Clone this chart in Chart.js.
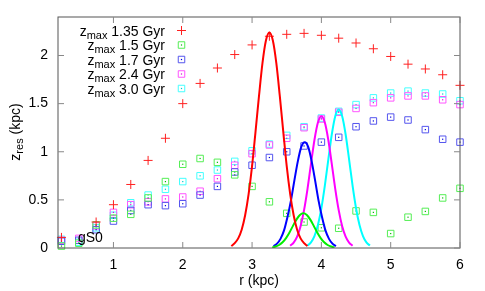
<!DOCTYPE html>
<html><head><meta charset="utf-8">
<script src="https://cdn.jsdelivr.net/npm/chart.js@4.4.1/dist/chart.umd.min.js"></script>
<style>html,body{margin:0;padding:0;background:#fff;}canvas{display:block;}</style>
</head><body>
<canvas id="c" width="485" height="291"></canvas>
<script>
// ---- data ----
const radii = [0.25,0.5,0.75,1.0,1.25,1.5,1.75,2.0,2.25,2.5,2.75,3.0,3.25,3.5,3.75,4.0,4.25,4.5,4.75,5.0,5.25,5.5,5.75,6.0];
const z135 = [0.11,null,0.27,0.45,0.66,0.91,1.14,1.50,1.71,1.87,2.01,2.11,2.20,2.22,2.23,2.21,2.18,2.13,2.07,1.99,1.91,1.86,1.80,1.69];
const z15  = [0.02,0.05,0.24,0.31,0.35,0.52,0.69,0.87,0.93,0.89,0.76,0.64,0.48,0.36,0.27,0.21,0.205,0.385,0.37,0.15,0.32,0.38,0.52,0.62];
const z17  = [0.07,0.08,0.19,0.28,0.39,0.45,0.44,0.46,0.55,0.64,0.79,0.86,0.94,1.00,1.06,1.10,1.15,1.26,1.32,1.36,1.33,1.23,1.13,1.10];
const z24  = [0.08,0.10,0.23,0.37,0.45,0.48,0.51,0.53,0.59,0.72,0.86,0.98,1.07,1.14,1.25,1.34,1.41,1.45,1.51,1.56,1.58,1.58,1.54,1.49];
const z30  = [0.09,0.06,0.21,0.34,0.47,0.55,0.61,0.69,0.75,0.81,0.90,1.01,1.08,1.17,1.26,1.35,1.42,1.49,1.56,1.61,1.63,1.61,1.60,1.53];

const redCurveR = [2.70,2.75,2.80,2.85,2.90,2.95,3.00,3.05,3.10,3.15,3.20,3.25,3.30,3.35,3.40,3.45,3.50,3.55,3.60,3.65,3.70,3.75,3.80];
const redCurveZ = [0.02,0.05,0.10,0.19,0.34,0.56,0.85,1.21,1.58,1.92,2.155,2.24,2.155,1.92,1.58,1.21,0.85,0.56,0.34,0.19,0.10,0.05,0.02];
const greenCurveR = [3.29,3.34,3.39,3.44,3.49,3.54,3.59,3.64,3.69,3.74,3.79,3.84,3.89,3.94,3.99,4.04,4.09,4.14,4.19];
const greenCurveZ = [0.006,0.015,0.031,0.059,0.103,0.162,0.23,0.295,0.342,0.36,0.342,0.295,0.23,0.162,0.103,0.059,0.031,0.015,0.006];
const blueCurveR = [3.31,3.36,3.41,3.46,3.51,3.56,3.61,3.66,3.71,3.76,3.81,3.86,3.91,3.96,4.01,4.06,4.11,4.16,4.21];
const blueCurveZ = [0.019,0.045,0.095,0.18,0.32,0.49,0.70,0.90,1.05,1.10,1.05,0.90,0.70,0.49,0.32,0.18,0.095,0.045,0.019];
const magCurveR = [3.55,3.60,3.65,3.70,3.75,3.80,3.85,3.90,3.95,4.00,4.05,4.10,4.15,4.20,4.25,4.30,4.35,4.40,4.45];
const magCurveZ = [0.024,0.056,0.118,0.226,0.393,0.615,0.874,1.122,1.303,1.37,1.303,1.122,0.874,0.615,0.393,0.226,0.118,0.056,0.024];
const cyanCurveR = [3.80,3.85,3.90,3.95,4.00,4.05,4.10,4.15,4.20,4.25,4.30,4.35,4.40,4.45,4.50,4.55,4.60,4.65,4.70];
const cyanCurveZ = [0.025,0.059,0.124,0.238,0.413,0.647,0.919,1.179,1.369,1.44,1.369,1.179,0.919,0.647,0.413,0.238,0.124,0.059,0.025];

const xTicks = [1,2,3,4,5,6];
const yTicks = [0,0.5,1,1.5,2];
const yTickLabels = ['0','0.5','1','1.5','2'];
const legendTexts = ['1.35 Gyr','1.5 Gyr','1.7 Gyr','2.4 Gyr','3.0 Gyr'];
const xTitle = 'r (kpc)';
const annotation = 'gS0';

// ---- build ----
const FONT = "'Liberation Sans', Arial, sans-serif";
const pts = (xs, ys) => xs.map((x,i) => ({x:x, y:ys[i]}));
const markerColors = ['#ff2020','#55ee55','#5555ee','#ff55ff','#44ffff'];
const dotColors = ['#ff0000','#00bb00','#0000dd','#dd00dd','#00cccc'];
const curveColors = ['#ff0000','#00ee00','#0000ff','#ff00ff','#00ffff'];
const seriesVals = [z135,z15,z17,z24,z30];

const datasets = [];
const curves = [[redCurveR,redCurveZ],[greenCurveR,greenCurveZ],[blueCurveR,blueCurveZ],[magCurveR,magCurveZ],[cyanCurveR,cyanCurveZ]];
curves.forEach((c,i) => datasets.push({
  type:'line', data: pts(c[0],c[1]), borderColor: curveColors[i], borderWidth: 2,
  pointRadius: 0, fill:false, cubicInterpolationMode:'monotone', order: 0, isCurve:true
}));
seriesVals.forEach((v,i) => datasets.push({
  type:'scatter', data: pts(radii, v).filter(p => p.y !== null),
  pointStyle: i===0 ? 'cross' : 'rect', pointRadius: i===0 ? 4.5 : 4.6,
  borderColor: markerColors[i], backgroundColor: 'rgba(0,0,0,0)', pointBorderWidth: 1,
  clip: false, order: 1, showLine:false, markerIndex: i
}));

const framePlugin = {
  id:'frame',
  afterDatasetDraw(chart, args) {
    const ds = chart.data.datasets[args.index];
    if (ds.markerIndex === undefined || ds.markerIndex === 0) return;
    const ctx = chart.ctx;
    ctx.save();
    ctx.fillStyle = dotColors[ds.markerIndex];
    args.meta.data.forEach(el => { ctx.fillRect(el.x - 0.6, el.y - 0.6, 1.2, 1.2); });
    ctx.restore();
  },
  afterDraw(chart) {
    const ctx = chart.ctx, a = chart.chartArea;
    const xs = chart.scales.x, ys = chart.scales.y;
    ctx.save();
    // border
    ctx.strokeStyle = '#555'; ctx.lineWidth = 1;
    ctx.strokeRect(a.left, a.top, a.right - a.left, a.bottom - a.top);
    // ticks
    ctx.strokeStyle = '#888';
    ctx.beginPath();
    xTicks.forEach(v => {
      const p = xs.getPixelForValue(v);
      ctx.moveTo(p, a.bottom); ctx.lineTo(p, a.bottom - 6);
      ctx.moveTo(p, a.top); ctx.lineTo(p, a.top + 6);
    });
    yTicks.forEach(v => {
      const p = ys.getPixelForValue(v);
      ctx.moveTo(a.left, p); ctx.lineTo(a.left + 6, p);
      ctx.moveTo(a.right, p); ctx.lineTo(a.right - 6, p);
    });
    ctx.stroke();
    // tick labels
    ctx.fillStyle = '#000';
    ctx.font = '14px ' + FONT;
    ctx.textAlign = 'center'; ctx.textBaseline = 'middle';
    xTicks.forEach(v => ctx.fillText(String(v), xs.getPixelForValue(v), 265));
    ctx.textAlign = 'right';
    yTicks.forEach((v,i) => ctx.fillText(yTickLabels[i], a.left - 10, ys.getPixelForValue(v)));
    // x title
    ctx.textAlign = 'center';
    ctx.fillText(xTitle, (a.left + a.right)/2, 281);
    // y title: z_res (kpc)
    ctx.save();
    ctx.translate(20, 132); ctx.rotate(-Math.PI/2);
    ctx.textBaseline = 'alphabetic'; ctx.textAlign = 'left';
    ctx.font = '14px ' + FONT; const wz = ctx.measureText('z').width; const wr = ctx.measureText(' (kpc)').width;
    ctx.font = '11px ' + FONT; const ws = ctx.measureText('res').width;
    let sx = -(wz + ws + wr)/2;
    ctx.font = '14px ' + FONT; ctx.fillText('z', sx, 0); sx += wz;
    ctx.font = '11px ' + FONT; ctx.fillText('res', sx, 3); sx += ws;
    ctx.font = '14px ' + FONT; ctx.fillText(' (kpc)', sx, 0);
    ctx.restore();
    // annotation
    ctx.textAlign = 'left'; ctx.textBaseline = 'alphabetic';
    ctx.font = '14px ' + FONT;
    ctx.fillText(annotation, 78, 242);
    // legend
    legendTexts.forEach((t,i) => {
      const yc = 30.5 + i*14.5, base = yc + 5;
      ctx.textAlign = 'right';
      ctx.font = '14px ' + FONT;
      let x = 165;
      ctx.fillText(t, x, base);
      x -= ctx.measureText(t).width + ctx.measureText(' ').width;
      ctx.font = '11px ' + FONT;
      ctx.fillText('max', x, base + 3);
      x -= ctx.measureText('max').width;
      ctx.font = '14px ' + FONT;
      ctx.fillText('z', x, base);
      // sample marker
      const mx = 181.5;
      ctx.strokeStyle = markerColors[i]; ctx.lineWidth = 1;
      ctx.beginPath();
      if (i === 0) {
        ctx.moveTo(mx - 4.5, yc); ctx.lineTo(mx + 4.5, yc);
        ctx.moveTo(mx, yc - 4.5); ctx.lineTo(mx, yc + 4.5);
        ctx.stroke();
      } else {
        const s = 3.25;
        ctx.rect(mx - s, yc - s, 2*s, 2*s); ctx.stroke();
        ctx.fillStyle = dotColors[i];
        ctx.fillRect(mx - 0.6, yc - 0.6, 1.2, 1.2);
        ctx.fillStyle = '#000';
      }
    });
    ctx.restore();
  }
};

new Chart(document.getElementById('c'), {
  type: 'scatter',
  data: { datasets: datasets },
  options: {
    responsive: false, animation: false, devicePixelRatio: 1,
    layout: { padding: { left: 58, right: 25, top: 17, bottom: 43 } },
    plugins: { legend: { display: false }, tooltip: { enabled: false } },
    scales: {
      x: { type: 'linear', min: 0.2, max: 6, display: false },
      y: { type: 'linear', min: 0, max: 2.4, display: false }
    }
  },
  plugins: [framePlugin]
});
</script>
</body></html>
